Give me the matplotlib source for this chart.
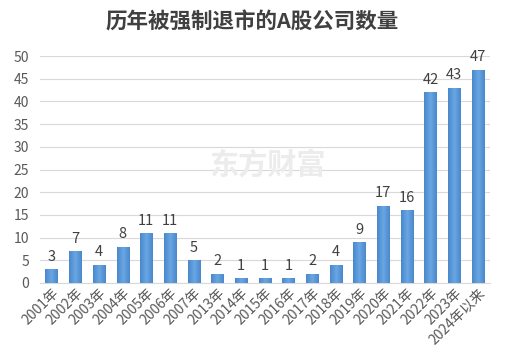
import matplotlib
matplotlib.use("Agg")
import matplotlib.pyplot as plt
import numpy as np
from matplotlib.colors import LinearSegmentedColormap

plt.rcParams['font.family'] = ['Noto Sans CJK SC', 'DejaVu Sans']

years = ["2001年", "2002年", "2003年", "2004年", "2005年", "2006年", "2007年", "2013年",
         "2014年", "2015年", "2016年", "2017年", "2018年", "2019年", "2020年", "2021年",
         "2022年", "2023年", "2024年以来"]
counts = [3, 7, 4, 8, 11, 11, 5, 2, 1, 1, 1, 2, 4, 9, 17, 16, 42, 43, 47]
title = "历年被强制退市的A股公司数量"

fig = plt.figure(figsize=(5.05, 3.63), dpi=100)
ax = fig.add_axes([40/505, 1-283/363, 450/505, (283-56)/363])

x = np.arange(len(years))
bars = ax.bar(x, counts, width=0.52, color="#5596d8", zorder=3)

grad = np.linspace(0, 1, 50).reshape(1, -1)
cmap = LinearSegmentedColormap.from_list("g", ["#4a88cc", "#6aa6e2", "#4a88cc"])
for b in bars:
    im = ax.imshow(grad, extent=[b.get_x(), b.get_x()+b.get_width(), 0, b.get_height()],
                   aspect="auto", cmap=cmap, zorder=3)
    im.set_clip_path(b)

for xi, v in zip(x, counts):
    ax.text(xi, v + 1.2, str(v), ha="center", va="bottom", fontsize=10.5, color="#404040", zorder=4)

ax.set_xlim(-0.49, len(years) - 0.49)
ax.set_ylim(0, 50)
ax.set_yticks(np.arange(0, 51, 5))
ax.tick_params(axis="y", length=0, labelsize=10, labelcolor="#595959", pad=8)
ax.tick_params(axis="x", length=0, labelsize=10, labelcolor="#595959", pad=2)
ax.set_xticks(x)
ax.set_xticklabels(years, rotation=45, ha="right", rotation_mode="anchor")
ax.grid(axis="y", color="#d9d9d9", linewidth=0.8, zorder=0)
for s in ["top", "right", "left"]:
    ax.spines[s].set_visible(False)
ax.spines["bottom"].set_color("#d9d9d9")

fig.text(0.5, 1-22/363, title, ha="center", va="center", fontsize=15.5,
         fontweight="bold", color="#404040")
fig.text(0.53, 1-165/363, "东方财富", ha="center", va="center", fontsize=21,
         fontweight="bold", color="#ececec", zorder=1)

fig.savefig("out.png", dpi=100)
